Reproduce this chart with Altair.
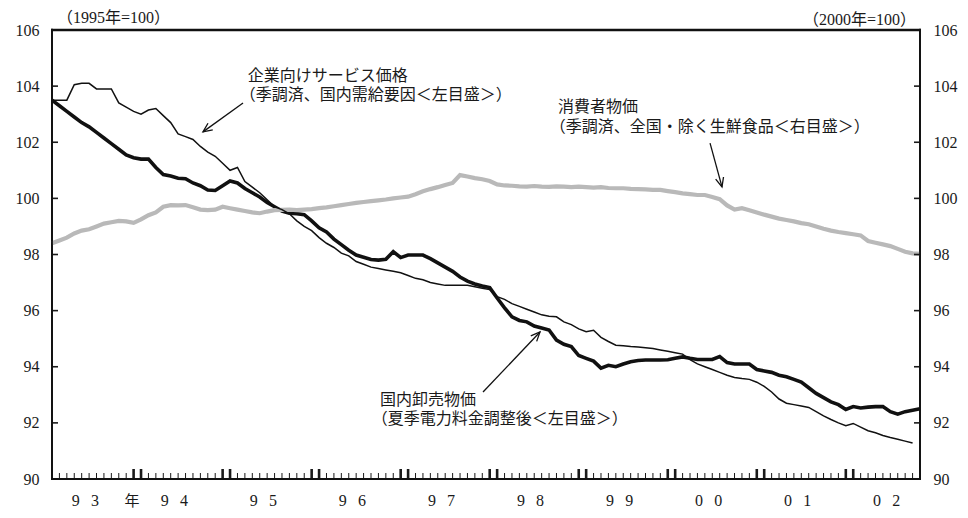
import math
import altair as alt
import pandas as pd

# ---------------- data (monthly, Jan 1993 = month 0) ----------------
# 企業向けサービス価格 (left scale), Jan 1993 .. Sep 2002
sppi = [103.5, 103.5, 103.5, 104.05, 104.1, 104.1, 103.9, 103.9, 103.9, 103.4,
        103.25, 103.1, 103.0, 103.15, 103.2, 102.95, 102.7, 102.3, 102.2, 102.1,
        101.85, 101.65, 101.5, 101.25, 101.0, 101.1, 100.6, 100.4, 100.2, 99.95,
        99.7, 99.6, 99.45, 99.2, 99.0, 98.85, 98.6, 98.4, 98.25, 98.05,
        97.95, 97.75, 97.65, 97.55, 97.5, 97.45, 97.4, 97.35, 97.25, 97.15,
        97.1, 97.0, 96.95, 96.9, 96.9, 96.9, 96.9, 96.85, 96.8, 96.75,
        96.5, 96.4, 96.25, 96.15, 96.05, 95.95, 95.85, 95.8, 95.78, 95.6,
        95.5, 95.35, 95.25, 95.3, 95.05, 94.9, 94.77, 94.75, 94.72, 94.7,
        94.68, 94.65, 94.6, 94.55, 94.5, 94.45, 94.25, 94.1, 94.0, 93.9,
        93.8, 93.7, 93.62, 93.58, 93.55, 93.45, 93.3, 93.1, 92.85, 92.7,
        92.65, 92.6, 92.55, 92.4, 92.25, 92.12, 92.0, 91.9, 91.98, 91.85,
        91.72, 91.65, 91.55, 91.48, 91.42, 91.35, 91.28]

# 国内卸売物価 (left scale), Jan 1993 .. Oct 2002
wpi = [103.5, 103.3, 103.1, 102.9, 102.7, 102.55, 102.35, 102.15, 101.95, 101.75,
       101.55, 101.45, 101.4, 101.4, 101.1, 100.85, 100.8, 100.72, 100.7, 100.55,
       100.45, 100.3, 100.28, 100.45, 100.62, 100.55, 100.35, 100.2, 100.05, 99.85,
       99.7, 99.55, 99.47, 99.45, 99.42, 99.2, 98.95, 98.8, 98.55, 98.35,
       98.15, 97.98, 97.9, 97.82, 97.8, 97.83, 98.1, 97.89, 97.98, 97.98,
       97.98, 97.85, 97.7, 97.55, 97.4, 97.2, 97.05, 96.95, 96.88, 96.82,
       96.45, 96.1, 95.78, 95.65, 95.6, 95.45, 95.38, 95.31, 94.95, 94.8,
       94.72, 94.4, 94.3, 94.2, 93.95, 94.05, 94.0, 94.1, 94.18, 94.22,
       94.24, 94.24, 94.24, 94.25, 94.3, 94.35, 94.3, 94.26, 94.26, 94.26,
       94.36, 94.15, 94.1, 94.1, 94.1, 93.9, 93.85, 93.8, 93.7, 93.64,
       93.55, 93.45, 93.25, 93.05, 92.9, 92.75, 92.65, 92.48, 92.58, 92.53,
       92.56, 92.58, 92.58, 92.4, 92.31, 92.4, 92.45, 92.5]

# 消費者物価 (right scale), Jan 1993 .. Oct 2002
cpi = [98.4, 98.5, 98.6, 98.75, 98.85, 98.9, 99.0, 99.1, 99.15, 99.2,
       99.18, 99.13, 99.25, 99.4, 99.5, 99.7, 99.76, 99.75, 99.76, 99.68,
       99.6, 99.58, 99.6, 99.7, 99.65, 99.6, 99.55, 99.5, 99.47, 99.53,
       99.58, 99.59, 99.6, 99.58, 99.6, 99.62, 99.65, 99.68, 99.72, 99.76,
       99.8, 99.84, 99.87, 99.9, 99.93, 99.96, 100.0, 100.03, 100.06, 100.15,
       100.25, 100.33, 100.4, 100.48, 100.55, 100.83, 100.78, 100.72, 100.68, 100.62,
       100.5, 100.46, 100.45, 100.43, 100.42, 100.44, 100.42, 100.41, 100.43, 100.42,
       100.4, 100.42, 100.4, 100.38, 100.4, 100.37, 100.36, 100.36, 100.34, 100.33,
       100.32, 100.3, 100.3, 100.26, 100.22, 100.18, 100.15, 100.12, 100.12, 100.05,
       99.97, 99.75, 99.6, 99.65, 99.58, 99.5, 99.42, 99.35, 99.28, 99.23,
       99.18, 99.12, 99.08, 99.0, 98.92, 98.85, 98.8, 98.76, 98.72, 98.68,
       98.48, 98.42, 98.36, 98.3, 98.2, 98.1, 98.04, 98.02]

year_labels = ["9\u2002\u20093", "9\u2002\u20094", "9\u2002\u20095", "9\u2002\u20096",
               "9\u2002\u20097", "9\u2002\u20098", "9\u2002\u20099", "0\u2002\u20090",
               "0\u2002\u20091", "0\u2002\u20092"]
y_ticks = [90, 92, 94, 96, 98, 100, 102, 104, 106]

# annotation texts (month, value) and arrows (tail -> head)
notes = [
    ("企業向けサービス価格", 26.4, 104.36),
    ("（季調済、国内需給要因＜左目盛＞）", 25.3, 103.68),
    ("消費者物価", 68.2, 103.26),
    ("（季調済、全国・除く生鮮食品＜右目盛＞）", 67.1, 102.54),
    ("国内卸売物価", 44.2, 92.81),
    ("（夏季電力料金調整後＜左目盛＞）", 43.1, 92.14),
]
arrows = [
    (25.75, 103.40, 20.35, 102.37),
    (88.7, 101.97, 90.31, 100.41),
    (58.1, 93.10, 65.78, 95.24),
]

# ---------------- layout ----------------
W, H = 868, 449
XMAX = 117
YMIN, YMAX = 90, 106
KX = W / XMAX            # px per month
KY = H / (YMAX - YMIN)   # px per unit

NUM_FONT = "Liberation Serif, Noto Sans CJK JP"
JP_FONT = "Noto Sans CJK JP"
INK = "#1a1a1a"

xs = alt.Scale(domain=[0, XMAX], nice=False, zero=False)
ys = alt.Scale(domain=[YMIN, YMAX], nice=False, zero=False)

df_sppi = pd.DataFrame({"m": list(range(len(sppi))), "v": sppi})
df_wpi = pd.DataFrame({"m": list(range(len(wpi))), "v": wpi})
df_cpi = pd.DataFrame({"m": list(range(len(cpi))), "v": cpi})

X = alt.X("m:Q", scale=xs, axis=None)


def y_axis(side):
    return alt.Axis(orient=side, values=y_ticks, ticks=False, domain=False,
                    grid=False, labelFont="Liberation Serif", labelFontSize=16,
                    labelColor=INK, labelPadding=13, labelFlush=False,
                    labelOverlap=False, labelBound=False, format="d")


def polylines(rows, width):
    """rows: list of (group id, order, month, value) drawn as line paths."""
    df = pd.DataFrame(rows, columns=["g", "o", "m", "v"])
    return alt.Chart(df).mark_line(color="#111111", strokeWidth=width).encode(
        x=X, y=alt.Y("v:Q", scale=ys, axis=None),
        detail="g:N", order="o:Q")


cpi_line = alt.Chart(df_cpi).mark_line(color="#b9b9b9", strokeWidth=4.2).encode(
    x=X, y=alt.Y("v:Q", scale=ys, title=None, axis=y_axis("right")))
wpi_line = alt.Chart(df_wpi).mark_line(color="#111111", strokeWidth=3.6).encode(
    x=X, y=alt.Y("v:Q", scale=ys, title=None, axis=y_axis("left")))
sppi_line = alt.Chart(df_sppi).mark_line(color="#111111", strokeWidth=1.5).encode(
    x=X, y=alt.Y("v:Q", scale=ys, axis=None))

# frame as filled bands (left, right, bottom, heavier top)
df_bands = pd.DataFrame({
    "x0": [-0.9, W - 0.9, -0.9, -0.9],
    "x1": [0.9, W + 0.9, W + 0.9, W + 0.9],
    "y0": [-1.2, -1.2, H - 0.9, -1.2],
    "y1": [H + 0.9, H + 0.9, H + 0.9, 1.2],
})
frame = alt.Chart(df_bands).mark_rect(color="#111111").encode(
    x=alt.X("x0:Q", scale=alt.Scale(domain=[0, W], range=[0, W], nice=False, zero=False), axis=None),
    x2="x1:Q",
    y=alt.Y("y0:Q", scale=alt.Scale(domain=[0, H], range=[0, H], nice=False, zero=False), axis=None),
    y2="y1:Q")

# monthly ticks inside the bottom frame (bold pairs at Dec/Jan)
tick_rows = []
for m in range(1, XMAX + 1):
    bold = (m % 12 in (0, 11))
    tick_rows.append({"m": m, "y0": YMIN, "y1": YMIN + (10 if bold else 6) / KY,
                      "w": "b" if bold else "n"})
df_ticks = pd.DataFrame(tick_rows)
small_ticks = alt.Chart(df_ticks[df_ticks.w == "n"]).mark_rule(color=INK, strokeWidth=1).encode(
    x=X, y=alt.Y("y0:Q", scale=ys, axis=None), y2="y1:Q")
bold_ticks = alt.Chart(df_ticks[df_ticks.w == "b"]).mark_rule(color=INK, strokeWidth=2.6).encode(
    x=X, y=alt.Y("y0:Q", scale=ys, axis=None), y2="y1:Q")

# inward y ticks on both sides: vertical-free short segments drawn as rules
yt = pd.DataFrame({"v": y_ticks[1:-1]})
yt_left = alt.Chart(yt).mark_rule(color=INK, strokeWidth=1.6).encode(
    y=alt.Y("v:Q", scale=ys, axis=None), x=alt.value(0), x2=alt.value(6))
yt_right = alt.Chart(yt).mark_rule(color=INK, strokeWidth=1.6).encode(
    y=alt.Y("v:Q", scale=ys, axis=None), x=alt.value(W - 6), x2=alt.value(W))

# year labels under the axis
df_years = pd.DataFrame({"m": [12 * i + 4.5 for i in range(len(year_labels))],
                         "t": year_labels})
years = alt.Chart(df_years).mark_text(font="Liberation Serif", fontSize=16, color=INK,
                                      baseline="middle", align="center").encode(
    x=X, y=alt.value(471), text="t:N")
nen = alt.Chart(pd.DataFrame({"m": [10.8], "t": ["年"]})).mark_text(
    font=JP_FONT, fontSize=15, color=INK, baseline="middle", align="center").encode(
    x=X, y=alt.value(471), text="t:N")

# base-year notes above the frame
base_left = alt.Chart(pd.DataFrame({"t": ["（1995年=100）"]})).mark_text(
    font=NUM_FONT, fontSize=16, color=INK, align="left", baseline="middle").encode(
    x=alt.value(5), y=alt.value(-12), text="t:N")
base_right = alt.Chart(pd.DataFrame({"t": ["（2000年=100）"]})).mark_text(
    font=NUM_FONT, fontSize=16, color=INK, align="right", baseline="middle").encode(
    x=alt.value(864), y=alt.value(-10), text="t:N")

# annotation texts
df_notes = pd.DataFrame(notes, columns=["t", "m", "v"])
note_text = alt.Chart(df_notes).mark_text(font=JP_FONT, fontSize=16, color=INK,
                                          align="left", baseline="middle").encode(
    x=X, y=alt.Y("v:Q", scale=ys, axis=None), text="t:N")

# arrows (shaft + open V head)
arrow_rows = []
for i, (m0, v0, m1, v1) in enumerate(arrows):
    arrow_rows.append((f"s{i}", 0, m0, v0))
    arrow_rows.append((f"s{i}", 1, m1, v1))
    dx = (m1 - m0) * KX
    dy = -(v1 - v0) * KY
    ang = math.atan2(dy, dx)
    head = []
    for s in (1, -1):
        a = ang + math.pi + s * math.radians(24)
        head.append((m1 + 10 * math.cos(a) / KX, v1 - 10 * math.sin(a) / KY))
    arrow_rows.append((f"h{i}", 0, head[0][0], head[0][1]))
    arrow_rows.append((f"h{i}", 1, m1, v1))
    arrow_rows.append((f"h{i}", 2, head[1][0], head[1][1]))
arrow_marks = polylines(arrow_rows, 1.3)

chart = alt.layer(
    wpi_line, cpi_line, sppi_line, small_ticks, bold_ticks, yt_left, yt_right,
    years, nen, base_left, base_right, note_text, arrow_marks, frame,
).resolve_scale(y="independent", x="independent").properties(
    width=W, height=H,
    autosize=alt.AutoSizeParams(type="none"),
    padding={"left": 44, "top": 22, "right": 40, "bottom": 31},
    background="white",
).configure_view(stroke="#111111", strokeWidth=1.8)

chart.save("out.html", embed_options={"renderer": "svg", "actions": False})
